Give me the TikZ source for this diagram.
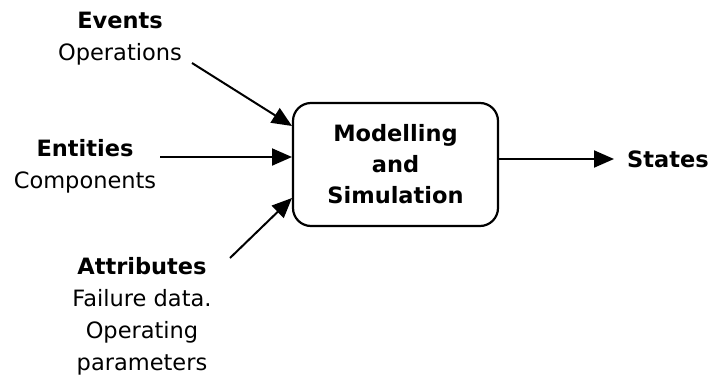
\documentclass[tikz,border=0pt]{standalone}
\usepackage{fontspec}
\setmainfont{DejaVu Sans}
\usetikzlibrary{arrows.meta}
\begin{document}
\begin{tikzpicture}[x=1pt,y=-1pt,
  lbl/.style={align=center,font=\fontsize{22.5}{32}\selectfont,inner sep=0pt},
  proc/.style={draw,line width=2.2pt,rounded corners=18pt,minimum width=205pt,minimum height=123pt,
    align=center,font=\bfseries\fontsize{22.5}{31}\selectfont},
  flow/.style={line width=2pt,-{Triangle[length=20pt,width=17pt]}}]
\useasboundingbox (0,0) rectangle (710,378);
\node[proc] (box) at (395.5,164.5) {Modelling\\and\\Simulation};
% anchor=base sits on the last line of each label
\node[lbl,anchor=base] (ev) at (120,60) {\textbf{Events}\\Operations};
\node[lbl,anchor=base] (en) at (85,188) {\textbf{Entities}\\Components};
\node[lbl,anchor=base] (at) at (142,370) {\textbf{Attributes}\\Failure data.\\Operating\\parameters};
\node[lbl,font=\bfseries\fontsize{22.5}{32}\selectfont,anchor=west] (st) at (627,159) {States};
\coordinate (evs) at (192,63);
\coordinate (evt) at (292,126);
\coordinate (ens) at (160,157);
\coordinate (ent) at (292,157);
\coordinate (ats) at (230,258);
\coordinate (att) at (292,198);
\coordinate (sts) at (box.east |- 0,159);
\coordinate (stt) at (614,159);
\draw[flow] (evs) -- (evt);
\draw[flow] (ens) -- (ent);
\draw[flow] (ats) -- (att);
\draw[flow] (sts) -- (stt);
\end{tikzpicture}
\end{document}
